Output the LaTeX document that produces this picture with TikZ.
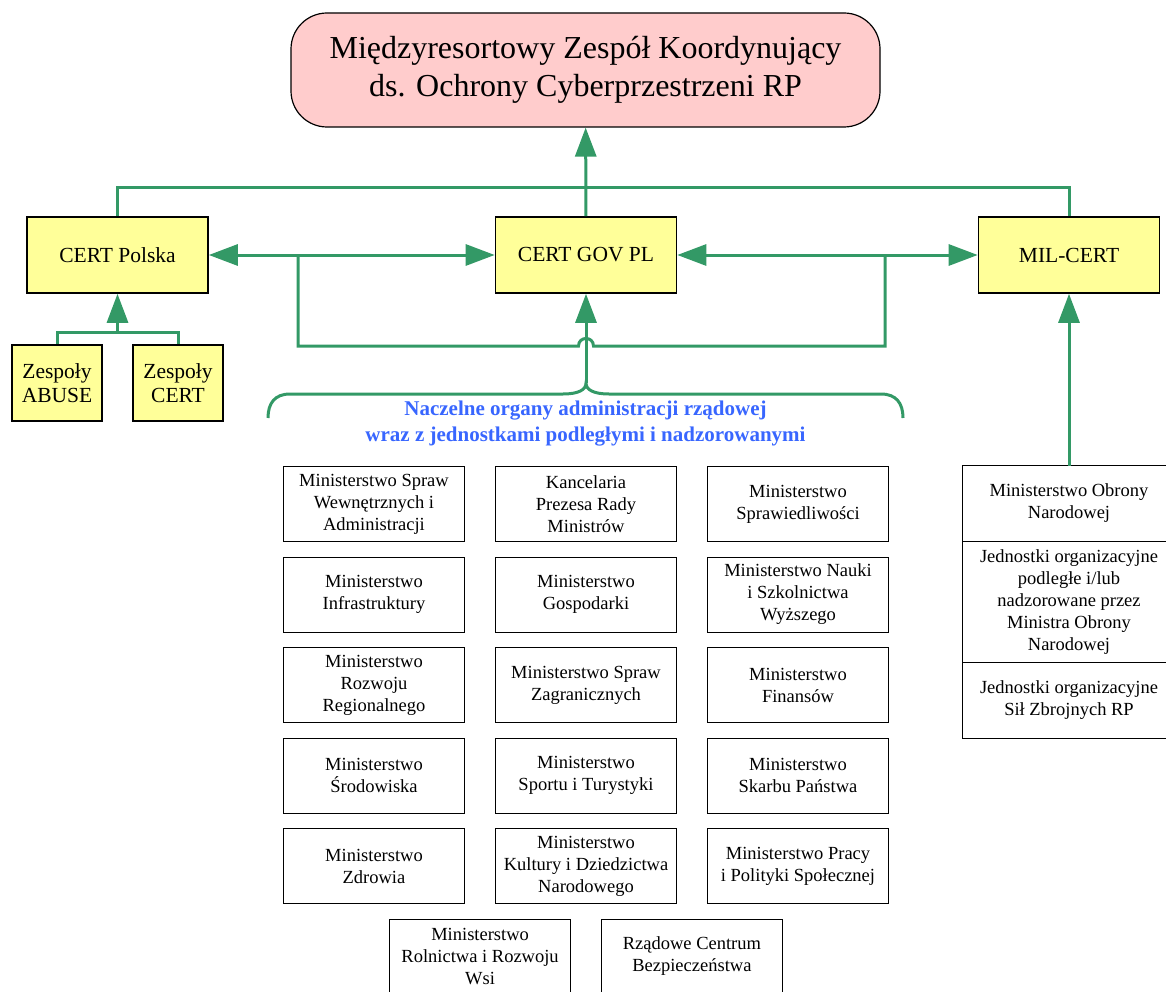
\documentclass[tikz,border=0pt]{standalone}
\usepackage{fontspec}
\setmainfont{Liberation Serif}
\usetikzlibrary{arrows.meta,positioning}

\definecolor{cyberGreen}{RGB}{51,153,102}
\definecolor{certYellow}{RGB}{255,255,153}
\definecolor{titlePink}{RGB}{255,204,204}
\definecolor{organBlue}{RGB}{56,102,255}

\begin{document}
\begin{tikzpicture}[%
	    x=1pt, y=-1pt,
	    >={Triangle[length=29pt,width=21pt]},
	    node distance=14.7pt and 30.2pt,
	    %on grid,
	    link/.style={color=cyberGreen, line width=3pt},
	    title/.style={draw, line width=1.2pt, fill=titlePink, rounded corners=36pt, minimum width=589pt, minimum height=114pt, align=center, font=\fontsize{32}{38}\selectfont},
	    cert/.style={draw, line width=1.6pt, fill=certYellow, minimum width=181pt, minimum height=76pt, font=\fontsize{21.5}{24}\selectfont},
	    team/.style={cert, minimum width=90pt, align=center},
	    ministry/.style={draw, line width=0.8pt, minimum width=181pt, minimum height=75pt, inner sep=2pt, align=center, font=\fontsize{18.5}{22}\selectfont},
	    defence/.style={ministry, minimum width=214pt, outer sep=0pt},
	    thick
	  ]

	  \useasboundingbox (0,0) rectangle (1166,992);

	  %\tikzstyle{every node}=[draw=none]

	  \node[title] (title) at (585.5,70) {Międzyresortowy Zespół Koordynujący\\ds. Ochrony Cyberprzestrzeni RP};

	  \node[cert] (polska) at (117.5,255) {CERT Polska};
	  \node[cert] (gov)    at (586,255)   {CERT GOV PL};
	  \node[cert] (mil)    at (1069,255)  {MIL-CERT};

	  \node[team] (abuse)    at (57,383)  {Zespoły\\ABUSE};
	  \node[team] (teamcert) at (178,383) {Zespoły\\CERT};

	  \node[text=organBlue, align=center, font=\fontsize{21}{26}\selectfont\bfseries] (organs) at (585.5,424)
	      {Naczelne organy administracji rządowej\\wraz z jednostkami podległymi i nadzorowanymi};

	  \node[ministry] (m11) at (374,504) {Ministerstwo Spraw\\Wewnętrznych i\\Administracji};
	  \node[ministry] (m12) [right=of m11] {Kancelaria\\Prezesa Rady\\Ministrów};
	  \node[ministry] (m13) [right=of m12] {Ministerstwo\\Sprawiedliwości};
	  \node[ministry] (m21) [below=of m11] {Ministerstwo\\Infrastruktury};
	  \node[ministry] (m22) [below=of m12] {Ministerstwo\\Gospodarki};
	  \node[ministry] (m23) [below=of m13] {Ministerstwo Nauki\\i Szkolnictwa\\Wyższego};
	  \node[ministry] (m31) [below=of m21] {Ministerstwo\\Rozwoju\\Regionalnego};
	  \node[ministry] (m32) [below=of m22] {Ministerstwo Spraw\\Zagranicznych};
	  \node[ministry] (m33) [below=of m23] {Ministerstwo\\Finansów};
	  \node[ministry] (m41) [below=of m31] {Ministerstwo\\Środowiska};
	  \node[ministry] (m42) [below=of m32] {Ministerstwo\\Sportu i Turystyki};
	  \node[ministry] (m43) [below=of m33] {Ministerstwo\\Skarbu Państwa};
	  \node[ministry] (m51) [below=of m41] {Ministerstwo\\Zdrowia};
	  \node[ministry] (m52) [below=of m42] {Ministerstwo\\Kultury i Dziedzictwa\\Narodowego};
	  \node[ministry] (m53) [below=of m43] {Ministerstwo Pracy\\i Polityki Społecznej};
	  \node[ministry] (m61) [below left=14.7pt and 15pt of m52.south]  {Ministerstwo\\Rolnictwa i Rozwoju\\Wsi};
	  \node[ministry] (m62) [below right=14.7pt and 15pt of m52.south] {Rządowe Centrum\\Bezpieczeństwa};

	  \node[defence, minimum height=76pt]  (mon)  at (1069,503.5) {Ministerstwo Obrony\\Narodowej};
	  \node[defence, minimum height=121pt] (jorg) [below=0pt of mon]  {Jednostki organizacyjne\\podległe i/lub\\nadzorowane przez\\Ministra Obrony\\Narodowej};
	  \node[defence, minimum height=76pt]  (sz)   [below=0pt of jorg] {Jednostki organizacyjne\\Sił Zbrojnych RP};

	  \coordinate (bus)      at (0,188);
	  \coordinate (teamsbus) at (117.5,332);
	  \coordinate (loopL)    at (298,255);
	  \coordinate (loopR)    at (885,255);
	  \coordinate (cusp)     at (586,383);

	  \draw[link] (polska.north) -- (polska.north |- bus) -| (mil.north);
	  \draw[link] (abuse.north) |- (teamsbus) -| (teamcert.north);
	  \draw[link] (loopL) -- (298,346) -- (578.5,346) .. controls +(0,-10) and +(0,-10) .. (593.5,346) -- (885,346) -- (loopR);
	  \draw[link] (268,418) .. controls (268,403) and (275,394) .. (290,394) -- (563,394)
	      .. controls (578,394) and (586,390) .. (cusp)
	      .. controls (586,390) and (594,394) .. (609,394) -- (881,394)
	      .. controls (896,394) and (903,403) .. (903,418);

	  \path[link, ->]
	      (gov)      edge (title)
	      (teamsbus) edge (polska)
	      (cusp)     edge (gov)
	      (mon)      edge (mil);
	  \path[link, <->]
	      (polska)   edge (gov)
	      (gov)      edge (mil);

\end{tikzpicture}
\end{document}
